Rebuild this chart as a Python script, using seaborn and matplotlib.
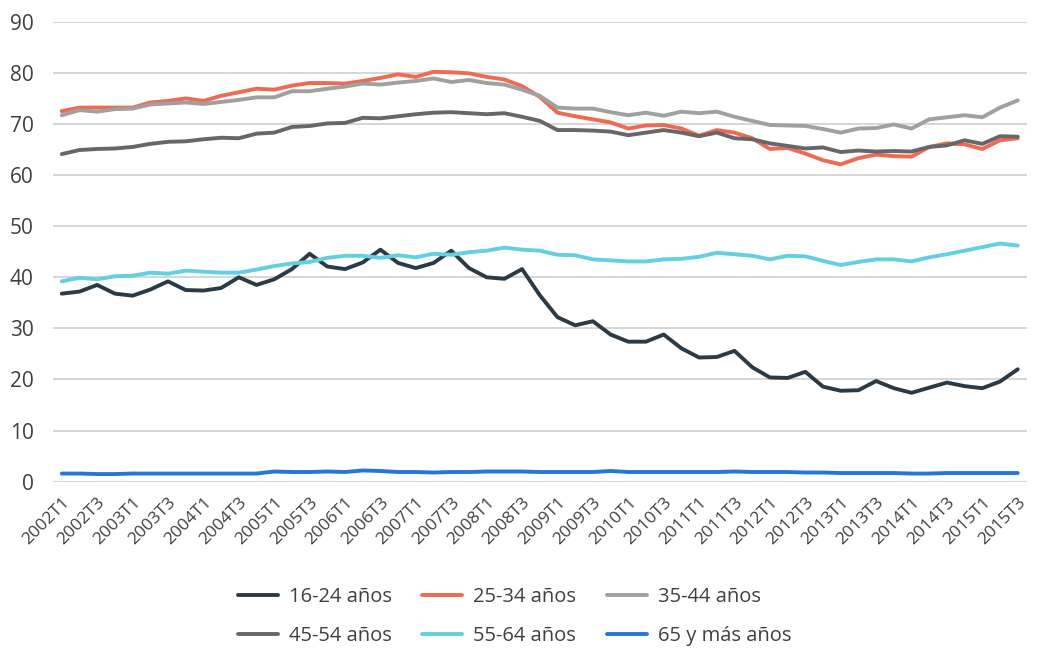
import pandas as pd
import matplotlib.pyplot as plt
import seaborn as sns

# Trimestres 2002T1 .. 2015T3
years = list(range(2002, 2016))
quarters = [f"{y}T{q}" for y in years for q in (1, 2, 3, 4)][:55]

g_16_24 = [36.8, 37.2, 38.5, 36.8, 36.4, 37.6, 39.2, 37.5, 37.4, 37.9, 40.0, 38.5, 39.6, 41.6,
           44.6, 42.1, 41.6, 42.9, 45.4, 42.8, 41.8, 42.8, 45.2, 41.8, 40.0, 39.7, 41.6, 36.5,
           32.2, 30.6, 31.4, 28.8, 27.4, 27.4, 28.8, 26.1, 24.3, 24.4, 25.6, 22.4, 20.4, 20.3,
           21.5, 18.6, 17.8, 17.9, 19.7, 18.3, 17.4, 18.4, 19.4, 18.7, 18.3, 19.6, 22.0]
g_25_34 = [72.5, 73.2, 73.2, 73.2, 73.2, 74.2, 74.5, 75.0, 74.5, 75.5, 76.2, 76.9, 76.7, 77.5,
           78.0, 78.0, 77.9, 78.4, 79.0, 79.7, 79.2, 80.2, 80.1, 79.9, 79.2, 78.7, 77.4, 75.3,
           72.2, 71.5, 70.9, 70.3, 69.1, 69.7, 69.8, 69.1, 67.7, 68.8, 68.3, 67.2, 65.1, 65.3,
           64.2, 62.9, 62.1, 63.3, 64.0, 63.7, 63.6, 65.5, 66.2, 66.0, 65.1, 66.8, 67.2]
g_35_44 = [71.7, 72.7, 72.4, 72.9, 73.0, 73.8, 74.0, 74.2, 73.9, 74.3, 74.7, 75.2, 75.2, 76.4,
           76.4, 76.9, 77.3, 77.9, 77.7, 78.1, 78.4, 78.9, 78.2, 78.6, 78.0, 77.7, 76.7, 75.5,
           73.2, 73.0, 73.0, 72.3, 71.7, 72.2, 71.6, 72.4, 72.1, 72.4, 71.4, 70.6, 69.8, 69.7,
           69.6, 69.0, 68.3, 69.1, 69.2, 69.9, 69.1, 70.9, 71.3, 71.7, 71.3, 73.2, 74.6]
g_45_54 = [64.1, 64.9, 65.1, 65.2, 65.5, 66.1, 66.5, 66.6, 67.0, 67.3, 67.2, 68.1, 68.3, 69.4,
           69.6, 70.1, 70.2, 71.2, 71.1, 71.5, 71.9, 72.2, 72.3, 72.1, 71.9, 72.1, 71.4, 70.6,
           68.8, 68.8, 68.7, 68.5, 67.8, 68.3, 68.8, 68.3, 67.6, 68.3, 67.2, 67.0, 66.2, 65.7,
           65.2, 65.4, 64.5, 64.8, 64.6, 64.7, 64.6, 65.5, 65.8, 66.8, 66.1, 67.6, 67.5]
g_55_64 = [39.2, 39.9, 39.6, 40.2, 40.3, 40.9, 40.7, 41.3, 41.1, 40.9, 40.9, 41.5, 42.2, 42.7,
           43.0, 43.8, 44.2, 44.2, 43.8, 44.3, 43.9, 44.6, 44.4, 44.9, 45.2, 45.8, 45.4, 45.2,
           44.4, 44.3, 43.5, 43.3, 43.1, 43.1, 43.5, 43.6, 44.0, 44.8, 44.5, 44.2, 43.5, 44.2,
           44.1, 43.2, 42.4, 43.0, 43.5, 43.5, 43.1, 43.9, 44.5, 45.2, 45.9, 46.6, 46.2]
g_65_mas = [1.6, 1.6, 1.5, 1.5, 1.6, 1.6, 1.6, 1.6, 1.6, 1.6, 1.6, 1.6, 2.0, 1.9, 1.9, 2.0,
            1.9, 2.2, 2.1, 1.9, 1.9, 1.8, 1.9, 1.9, 2.0, 2.0, 2.0, 1.9, 1.9, 1.9, 1.9, 2.1,
            1.9, 1.9, 1.9, 1.9, 1.9, 1.9, 2.0, 1.9, 1.9, 1.9, 1.8, 1.8, 1.7, 1.7, 1.7, 1.7,
            1.6, 1.6, 1.7, 1.7, 1.7, 1.7, 1.7]

series_names = ["16-24 años", "25-34 años", "35-44 años", "45-54 años", "55-64 años", "65 y más años"]
series_values = [g_16_24, g_25_34, g_35_44, g_45_54, g_55_64, g_65_mas]
colors = ["#2c3a45", "#ee6a52", "#a0a0a0", "#67676a", "#62d0e0", "#2576db"]

# Tabla en formato largo para seaborn
frames = []
for name, vals in zip(series_names, series_values):
    frames.append(pd.DataFrame({"idx": range(len(quarters)), "valor": vals, "grupo": name}))
df = pd.concat(frames, ignore_index=True)

sns.set_style("white")
plt.rcParams['font.family'] = ['Open Sans', 'DejaVu Sans']

fig = plt.figure(figsize=(10.38, 6.48), dpi=100)
ax = fig.add_axes([0.051, 0.2566, 0.938, 0.7099])

sns.lineplot(data=df, x="idx", y="valor", hue="grupo", hue_order=series_names,
             palette=colors, linewidth=2.8, ax=ax, legend=False)

ax.set_xlim(-0.5, len(quarters) - 0.5)
ax.set_ylim(0, 90)
ax.set_yticks(range(0, 91, 10))
ax.set_xticks(range(0, len(quarters), 2))
ax.set_xticklabels(quarters[::2], rotation=45, ha="right", rotation_mode="anchor")
ax.tick_params(axis="y", labelsize=15, colors="#404040", length=0, pad=14)
ax.tick_params(axis="x", labelsize=12.5, colors="#404040", length=0, pad=9)
ax.set_xlabel("")
ax.set_ylabel("")
ax.grid(axis="y", color="#d0d0d0", linewidth=1.2)
ax.set_axisbelow(True)
for s in ax.spines.values():
    s.set_visible(False)

# Leyenda en dos filas de tres columnas
handles = ax.get_lines()[:6]
order = [0, 3, 1, 4, 2, 5]
fig.legend([handles[i] for i in order], [series_names[i] for i in order],
           loc="center", bbox_to_anchor=(0.4957, 0.048), ncol=3, frameon=False,
           fontsize=14.5, handlelength=2.0, handletextpad=0.55, columnspacing=1.5,
           labelspacing=0.95, labelcolor="#404040")

plt.savefig("out.png", dpi=100)
